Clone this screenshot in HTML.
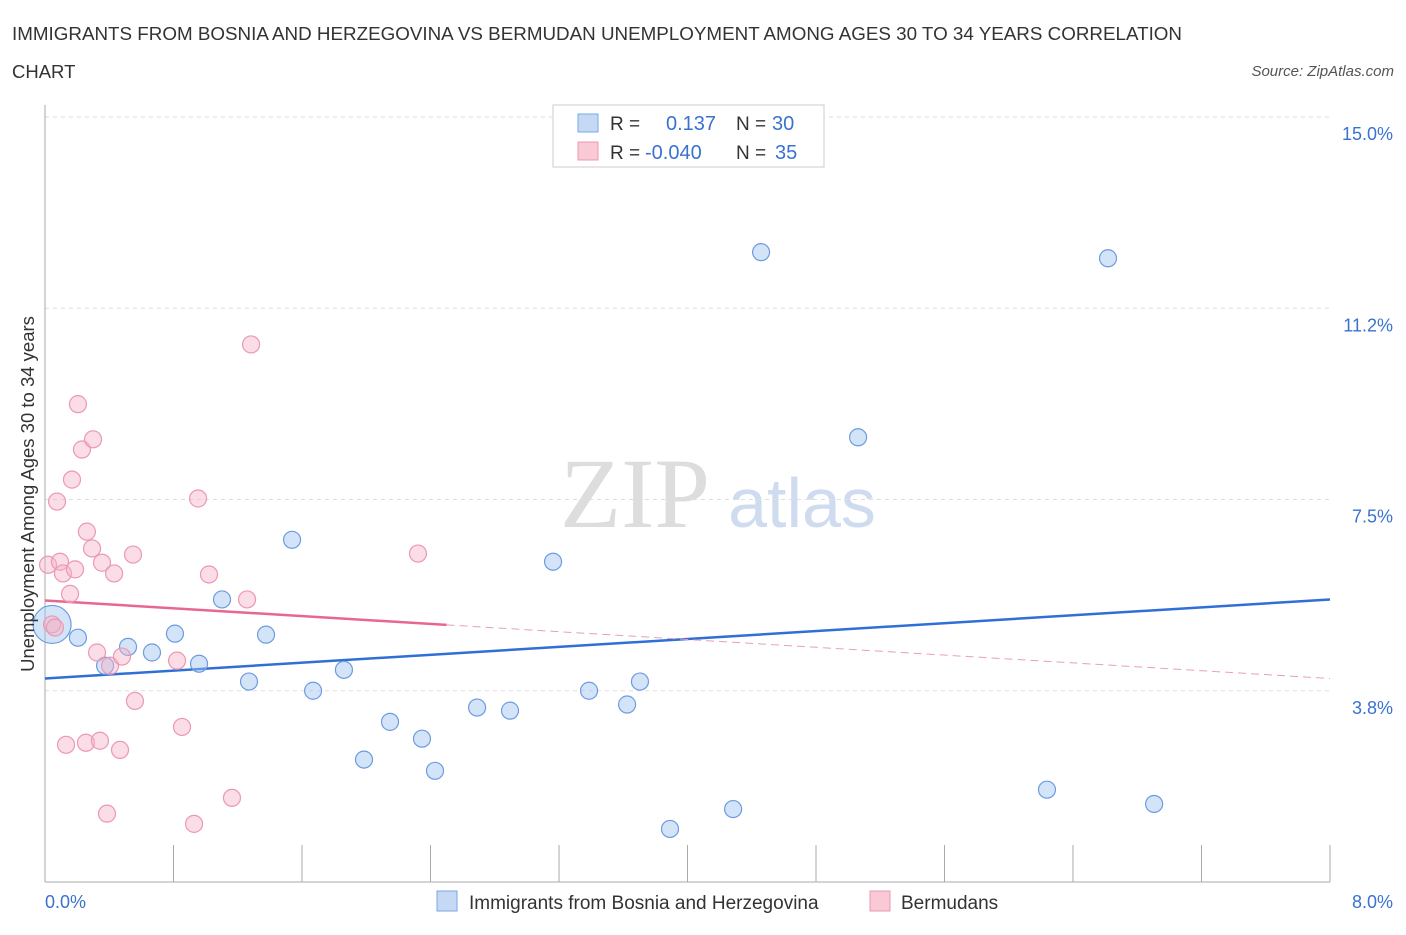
<!DOCTYPE html>
<html><head><meta charset="utf-8"><style>
body{margin:0;background:#fff;font-family:"Liberation Sans",sans-serif;}
svg text{font-family:"Liberation Sans",sans-serif;}
</style></head><body>
<svg id="chart" width="1406" height="930">
<text x="12" y="40" font-size="18.5" fill="#333" textLength="1170" lengthAdjust="spacingAndGlyphs">IMMIGRANTS FROM BOSNIA AND HERZEGOVINA VS BERMUDAN UNEMPLOYMENT AMONG AGES 30 TO 34 YEARS CORRELATION</text>
<text x="12" y="78" font-size="18.5" fill="#333">CHART</text>
<text x="1394" y="76" font-size="15" fill="#555" font-style="italic" text-anchor="end">Source: ZipAtlas.com</text>
<text x="635" y="527" font-size="100" fill="#ddd" style="font-family:'Liberation Serif',serif" text-anchor="middle">ZIP</text>
<text x="802" y="527" font-size="70" fill="#cfdcf0" text-anchor="middle">atlas</text>
<g id="grid"></g>
<g id="axes"></g>
<g id="lines"></g>
<g id="points"></g>
<text transform="translate(34,494) rotate(-90)" font-size="18.5" fill="#333" text-anchor="middle">Unemployment Among Ages 30 to 34 years</text>
<g>
<rect x="553" y="105" width="271" height="62" fill="#fff" stroke="#ccc"/>
<rect x="578" y="114" width="20" height="18" fill="#c5d9f5" stroke="#7aa6e6"/>
<rect x="578" y="142" width="20" height="18" fill="#f9c9d6" stroke="#ee98b0"/>
<text x="610" y="130" font-size="19" fill="#333">R =</text>
<text x="666" y="130" font-size="20" fill="#3a72d0">0.137</text>
<text x="736" y="130" font-size="19" fill="#333">N =</text>
<text x="772" y="130" font-size="20" fill="#3a72d0">30</text>
<text x="610" y="159" font-size="19" fill="#333">R =</text>
<text x="645" y="159" font-size="20" fill="#3a72d0">-0.040</text>
<text x="736" y="159" font-size="19" fill="#333">N =</text>
<text x="775" y="159" font-size="20" fill="#3a72d0">35</text>
</g>
<g>
<rect x="437" y="891" width="20" height="20" fill="#c5d9f5" stroke="#7aa6e6"/>
<text x="469" y="909" font-size="19" fill="#333">Immigrants from Bosnia and Herzegovina</text>
<rect x="870" y="891" width="20" height="20" fill="#f9c9d6" stroke="#ee98b0"/>
<text x="901" y="909" font-size="19" fill="#333">Bermudans</text>
</g>
</svg>
<script>
const yTicks=[3.75,7.5,11.25,15];
const yTickLabels=["3.8%","7.5%","11.2%","15.0%"];
const xTickLabels=["0.0%","8.0%"];
const blueX=[0.044,0.205,0.374,0.517,0.666,0.809,0.959,1.102,1.270,1.376,1.538,1.669,1.861,1.986,2.148,2.347,2.428,2.690,2.895,3.163,3.387,3.624,3.704,3.891,4.284,4.458,5.062,6.238,6.618,6.905];
const blueY=[5.05,4.79,4.24,4.61,4.50,4.87,4.28,5.54,3.93,4.85,6.71,3.75,4.16,2.40,3.14,2.81,2.18,3.42,3.36,6.28,3.75,3.48,3.93,1.04,1.43,12.35,8.72,1.81,12.23,1.53];
const pinkX=[0.019,0.044,0.075,0.093,0.112,0.131,0.156,0.168,0.187,0.205,0.230,0.261,0.255,0.293,0.299,0.324,0.342,0.355,0.386,0.405,0.430,0.467,0.479,0.548,0.560,0.822,0.853,0.928,0.953,1.021,1.164,1.258,1.283,2.322,0.062];
const pinkY=[6.22,5.05,7.46,6.28,6.05,2.69,5.65,7.89,6.13,9.37,8.48,6.87,2.73,6.54,8.68,4.50,2.77,6.26,1.34,4.24,6.05,2.59,4.42,6.42,3.55,4.34,3.04,1.14,7.52,6.03,1.65,5.54,10.54,6.44,4.99];
const blueTrend=[3.99,5.54];
const pinkTrend=[5.52,3.99];
const pinkSolidEnd=2.5;
const X0=45,X1=1330,Y0=882,YTOP=117;
const sx=v=>X0+v/8*(X1-X0);
const sy=v=>Y0-v/15*(Y0-YTOP);
const NS="http://www.w3.org/2000/svg";
function mk(tag,attrs,parent){const e=document.createElementNS(NS,tag);for(const k in attrs)e.setAttribute(k,attrs[k]);document.getElementById(parent).appendChild(e);return e;}
yTicks.forEach((t,i)=>{
 const g=mk('line',{x1:X0,x2:X1,y1:sy(t),y2:sy(t),stroke:'#ddd','stroke-dasharray':'4,4'},'grid');
 
 
 const l=mk('text',{x:1393,y:sy(t)+23,'font-size':18,fill:'#3a72d0','text-anchor':'end'},'axes');
 l.textContent=yTickLabels[i];
 
 
});
const ya=mk('line',{x1:X0,x2:X0,y1:105,y2:Y0,stroke:'#aaa'},'axes');


const xa=mk('line',{x1:X0,x2:X1,y1:Y0,y2:Y0,stroke:'#aaa'},'axes');


for(let i=0;i<=10;i++){
 const t=mk('line',{x1:sx(i*0.8),x2:sx(i*0.8),y1:845,y2:Y0,stroke:'#aaa'},'axes');
 
 
}
[[0,'start',45],[8,'end',1393]].forEach((a,i)=>{
 const l=mk('text',{x:a[2],y:908,'font-size':18,fill:'#3a72d0','text-anchor':a[1]},'axes');
 l.textContent=xTickLabels[i];
 
 
});
const bl=mk('line',{x1:sx(0),y1:sy(blueTrend[0]),x2:sx(8),y2:sy(blueTrend[1]),stroke:'#2f6fd6','stroke-width':2.5},'lines');


const pAt=x=>pinkTrend[0]+(pinkTrend[1]-pinkTrend[0])*x/8;
const pl=mk('line',{x1:sx(0),y1:sy(pinkTrend[0]),x2:sx(pinkSolidEnd),y2:sy(pAt(pinkSolidEnd)),stroke:'#e8678e','stroke-width':2.5},'lines');


const pd=mk('line',{x1:sx(pinkSolidEnd),y1:sy(pAt(pinkSolidEnd)),x2:sx(8),y2:sy(pinkTrend[1]),stroke:'#e8a0b6','stroke-width':1,'stroke-dasharray':'8,5'},'lines');


blueX.forEach((x,i)=>{
 const c=mk('circle',{cx:sx(x),cy:sy(blueY[i]),r:i===0?19:8.5,fill:'rgba(160,195,240,0.45)',stroke:'#6d9be0','stroke-width':1.2},'points');
 
 
});
pinkX.forEach((x,i)=>{
 const c=mk('circle',{cx:sx(x),cy:sy(pinkY[i]),r:8.5,fill:'rgba(245,180,200,0.45)',stroke:'#ec98b2','stroke-width':1.2},'points');
 
 
});
</script>
</body></html>
